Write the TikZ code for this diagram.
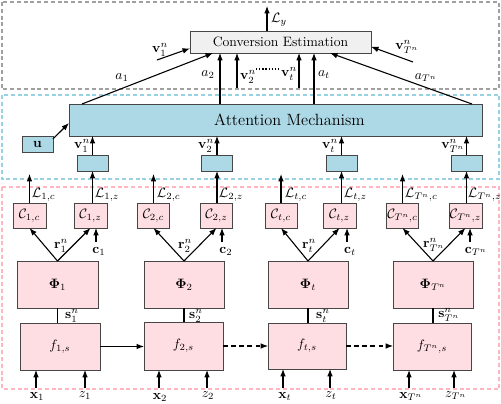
\documentclass[tikz,border=0pt]{standalone}
\usetikzlibrary{arrows.meta,calc}
\definecolor{lblue}{RGB}{173,216,230}
\definecolor{pinkfill}{RGB}{255,222,227}
\definecolor{pinkdash}{RGB}{255,182,193}
\definecolor{cyandash}{RGB}{150,210,228}
\definecolor{graydash}{RGB}{160,160,160}
\definecolor{convfill}{RGB}{240,240,240}
\definecolor{edgegray}{RGB}{70,70,70}
\begin{document}
\begin{tikzpicture}[x=0.7353pt,y=-0.7353pt,
 boxx/.style 2 args={draw=edgegray, line width=0.7pt, minimum width=#1*0.7353pt, minimum height=#2*0.7353pt, inner sep=0pt, outer sep=0pt},
 pbox/.style 2 args={boxx={#1}{#2}, fill=pinkfill},
 bbox/.style 2 args={boxx={#1}{#2}, fill=lblue},
 arr/.style={-{Latex[length=5.5pt,width=4.2pt]}, line width=0.8pt},
 conn/.style={line width=0.8pt},
 lbl/.style={inner sep=0.5pt},
 dframe/.style={dash pattern=on 3pt off 2pt, line width=1.1pt},
]
\useasboundingbox (0,0) rectangle (501,403);
% frames
\draw[dframe, graydash] (2,2) rectangle (499,89);
\draw[dframe, cyandash] (2,95) rectangle (499,179);
\draw[dframe, pinkdash] (2,187) rectangle (499,389);

% top boxes
\node[boxx={181}{22}, fill=convfill] (conv) at (280.5,42) {Conversion Estimation};
\node[bbox={413}{32}] (att) at (275.5,120) {};
\node (attl) at (289.5,120) {\large Attention Mechanism};
\node[bbox={31}{16}] (u) at (37.5,144) {$\mathbf{u}$};

% blue small boxes
\node[bbox={31}{16}] (b1) at (92.5,163) {};
\node[bbox={31}{16}] (b2) at (217,163) {};
\node[bbox={31}{16}] (b3) at (341.5,163) {};
\node[bbox={31}{16}] (b4) at (466.5,163) {};

% C boxes
\node[pbox={33}{25}] (c1c) at (29.5,215.5) {$\mathcal{C}_{1,c}$};
\node[pbox={33}{25}] (c1z) at (90.5,215.5) {$\mathcal{C}_{1,z}$};
\node[pbox={32}{25}] (c2c) at (153.5,215.5) {$\mathcal{C}_{2,c}$};
\node[pbox={32}{25}] (c2z) at (216.5,215.5) {$\mathcal{C}_{2,z}$};
\node[pbox={32}{25}] (c3c) at (281,215.5) {$\mathcal{C}_{t,c}$};
\node[pbox={33}{25}] (c3z) at (339.5,215.5) {$\mathcal{C}_{t,z}$};
\node[pbox={32}{25}] (c4c) at (402.5,215.5) {$\mathcal{C}_{T^n,c}$};
\node[pbox={33}{25}] (c4z) at (465.5,215.5) {$\mathcal{C}_{T^n,z}$};

% Phi boxes
\node[pbox={81}{47}] (p1) at (57.5,284.5) {$\mathbf{\Phi}_1$};
\node[pbox={80}{47}] (p2) at (184,284.5) {$\mathbf{\Phi}_2$};
\node[pbox={80}{47}] (p3) at (308,284.5) {$\mathbf{\Phi}_t$};
\node[pbox={80}{47}] (p4) at (433,284.5) {$\mathbf{\Phi}_{T^n}$};

% f boxes
\node[pbox={80}{47}] (f1) at (60,346.5) {$f_{1,s}$};
\node[pbox={79}{48}] (f2) at (183.5,346) {$f_{2,s}$};
\node[pbox={78}{46}] (f3) at (307,346) {$f_{t,s}$};
\node[pbox={78}{47}] (f4) at (432,346.5) {$f_{T^n,s}$};

% ---- top region connectors
\coordinate (lyend) at (267,6);
\draw[arr] (conv.north -| lyend) -- (lyend);
\node[lbl] (lyl) at (279,20) {$\mathcal{L}_y$};

\coordinate (v1s) at (157,60);
\draw[arr] (v1s) -- (conv.184);
\node[lbl] (v1l) at (160,50) {$\mathbf{v}_1^n$};

\draw[arr] ($(att.north west)+(13,0)$) -- ($(conv.south west)+(23,0)$);
\node[lbl] (a1l) at (122,78) {$a_1$};

\coordinate (a2x) at (220,0);
\draw[arr] (att.north -| a2x) -- (conv.south -| a2x);
\node[lbl] (a2l) at (208,75) {$a_2$};

\coordinate (v2s) at (237,88);
\draw[arr] (v2s) -- (v2s |- conv.south);
\node[lbl] (v2l) at (248,77) {$\mathbf{v}_2^n$};
\coordinate (dotA) at (256,69);
\coordinate (dotB) at (281,69);
\draw[line width=1.1pt, dash pattern=on 1pt off 1.3pt] (dotA) -- (dotB);

\coordinate (vts) at (299,88);
\draw[arr] (vts) -- (vts |- conv.south);
\node[lbl] (vtl) at (289,74) {$\mathbf{v}_t^n$};

\coordinate (atx) at (314,0);
\draw[arr] (att.north -| atx) -- (conv.south -| atx);
\node[lbl] (atl) at (324,75) {$a_t$};

\draw[arr] ($(att.north east)+(-10,0)$) -- ($(conv.south west)+(140,0)$);
\node[lbl] (aTl) at (426,78) {$a_{T^n}$};

\coordinate (vTs) at (413,62);
\draw[arr] (vTs) -- (conv.-3);
\node[lbl] (vTl) at (407,47) {$\mathbf{v}_{T^n}^n$};

% ---- attention region
\draw[arr] (u.18) -- ($(att.west)+(0,3)$);
\draw[arr] (b1.north) -- (b1.north |- att.south);
\draw[arr] (b2.north) -- (b2.north |- att.south);
\draw[arr] (b3.north) -- (b3.north |- att.south);
\draw[arr] (b4.north) -- (b4.north |- att.south);
\node[lbl] (vb1) at (82,146) {$\mathbf{v}_1^n$};
\node[lbl] (vb2) at (206,146) {$\mathbf{v}_2^n$};
\node[lbl] (vb3) at (330,146) {$\mathbf{v}_t^n$};
\node[lbl] (vb4) at (453,146) {$\mathbf{v}_{T^n}^n$};

% ---- L arrows
\coordinate (ltop) at (0,174);
\draw[arr] (c1c.north) -- (c1c.north |- ltop);
\draw[arr] (c2c.north) -- (c2c.north |- ltop);
\draw[arr] (c3c.north) -- (c3c.north |- ltop);
\draw[arr] (c4c.north) -- (c4c.north |- ltop);
\draw[arr] (b1.south |- c1z.north) -- (b1.south);
\draw[arr] (b2.south |- c2z.north) -- (b2.south);
\draw[arr] (b3.south |- c3z.north) -- (b3.south);
\draw[arr] (b4.south |- c4z.north) -- (b4.south);
\node[lbl, anchor=west] (l1c) at (31,195) {$\mathcal{L}_{1,c}$};
\node[lbl, anchor=west] (l1z) at (94,195) {$\mathcal{L}_{1,z}$};
\node[lbl, anchor=west] (l2c) at (156,195) {$\mathcal{L}_{2,c}$};
\node[lbl, anchor=west] (l2z) at (218,195) {$\mathcal{L}_{2,z}$};
\node[lbl, anchor=west] (l3c) at (284,195) {$\mathcal{L}_{t,c}$};
\node[lbl, anchor=west] (l3z) at (343,195) {$\mathcal{L}_{t,z}$};
\node[lbl, anchor=west] (l4c) at (404,195) {$\mathcal{L}_{T^n,c}$};
\node[lbl, anchor=west] (l4z) at (467,195) {$\mathcal{L}_{T^n,z}$};

% ---- r arrows
\draw[arr] (p1.north) -- (c1c.south);
\draw[arr] (p1.north) -- (c1z.south);
\draw[arr] (p2.north) -- (c2c.south);
\draw[arr] (p2.north) -- (c2z.south);
\draw[arr] (p3.north) -- (c3c.south);
\draw[arr] (p3.north) -- (c3z.south);
\draw[arr] (p4.north) -- (c4c.south);
\draw[arr] (p4.north) -- (c4z.south);
\node[lbl] (r1) at (61,246) {$\mathbf{r}_1^n$};
\node[lbl] (r2) at (185,246) {$\mathbf{r}_2^n$};
\node[lbl] (r3) at (309,246) {$\mathbf{r}_t^n$};
\node[lbl] (r4) at (434,245) {$\mathbf{r}_{T^n}^n$};

% ---- c arrows
\coordinate (c1a) at (96,242);
\coordinate (c2a) at (222,242);
\coordinate (c3a) at (347,242);
\coordinate (c4a) at (470,242);
\draw[arr] (c1a) -- (c1a |- c1z.south);
\draw[arr] (c2a) -- (c2a |- c2z.south);
\draw[arr] (c3a) -- (c3a |- c3z.south);
\draw[arr] (c4a) -- (c4a |- c4z.south);
\node[lbl] (c1l) at (99,251) {$\mathbf{c}_1$};
\node[lbl] (c2l) at (226,251) {$\mathbf{c}_2$};
\node[lbl] (c3l) at (350,251) {$\mathbf{c}_t$};
\node[lbl] (c4l) at (476,251) {$\mathbf{c}_{T^n}$};

% ---- s lines
\draw[conn] (p1.south) -- (p1.south |- f1.north);
\draw[conn] (p2.south) -- (p2.south |- f2.north);
\draw[conn] (p3.south) -- (p3.south |- f3.north);
\draw[conn] (p4.south) -- (p4.south |- f4.north);
\node[lbl] (s1) at (72,316) {$\mathbf{s}_1^n$};
\node[lbl] (s2) at (196,316) {$\mathbf{s}_2^n$};
\node[lbl] (s3) at (323,316) {$\mathbf{s}_t^n$};
\node[lbl] (s4) at (449,315) {$\mathbf{s}_{T^n}^n$};

% ---- f chain
\draw[arr] (f1.east) -- (f1.east -| f2.west);
\draw[arr, dash pattern=on 3.5pt off 2.5pt] (f2.east) -- (f2.east -| f3.west);
\draw[arr, dash pattern=on 3.5pt off 2.5pt] (f3.east) -- (f3.east -| f4.west);

% ---- inputs
\coordinate (x1a) at (36,388);
\coordinate (z1a) at (85,388);
\coordinate (x2a) at (159,388);
\coordinate (z2a) at (207,388);
\coordinate (x3a) at (283,388);
\coordinate (z3a) at (330,388);
\coordinate (x4a) at (409,388);
\coordinate (z4a) at (454,388);
\draw[arr] (x1a) -- (x1a |- f1.south);
\draw[arr] (z1a) -- (z1a |- f1.south);
\draw[arr] (x2a) -- (x2a |- f2.south);
\draw[arr] (z2a) -- (z2a |- f2.south);
\draw[arr] (x3a) -- (x3a |- f3.south);
\draw[arr] (z3a) -- (z3a |- f3.south);
\draw[arr] (x4a) -- (x4a |- f4.south);
\draw[arr] (z4a) -- (z4a |- f4.south);
\node[lbl] (x1l) at (37,396) {$\mathbf{x}_1$};
\node[lbl] (z1l) at (85,396) {$z_1$};
\node[lbl] (x2l) at (160,397) {$\mathbf{x}_2$};
\node[lbl] (z2l) at (208,396) {$z_2$};
\node[lbl] (x3l) at (285,396) {$\mathbf{x}_t$};
\node[lbl] (z3l) at (331,396) {$z_t$};
\node[lbl] (x4l) at (411,396) {$\mathbf{x}_{T^n}$};
\node[lbl] (z4l) at (456,396) {$z_{T^n}$};
\end{tikzpicture}
\end{document}
